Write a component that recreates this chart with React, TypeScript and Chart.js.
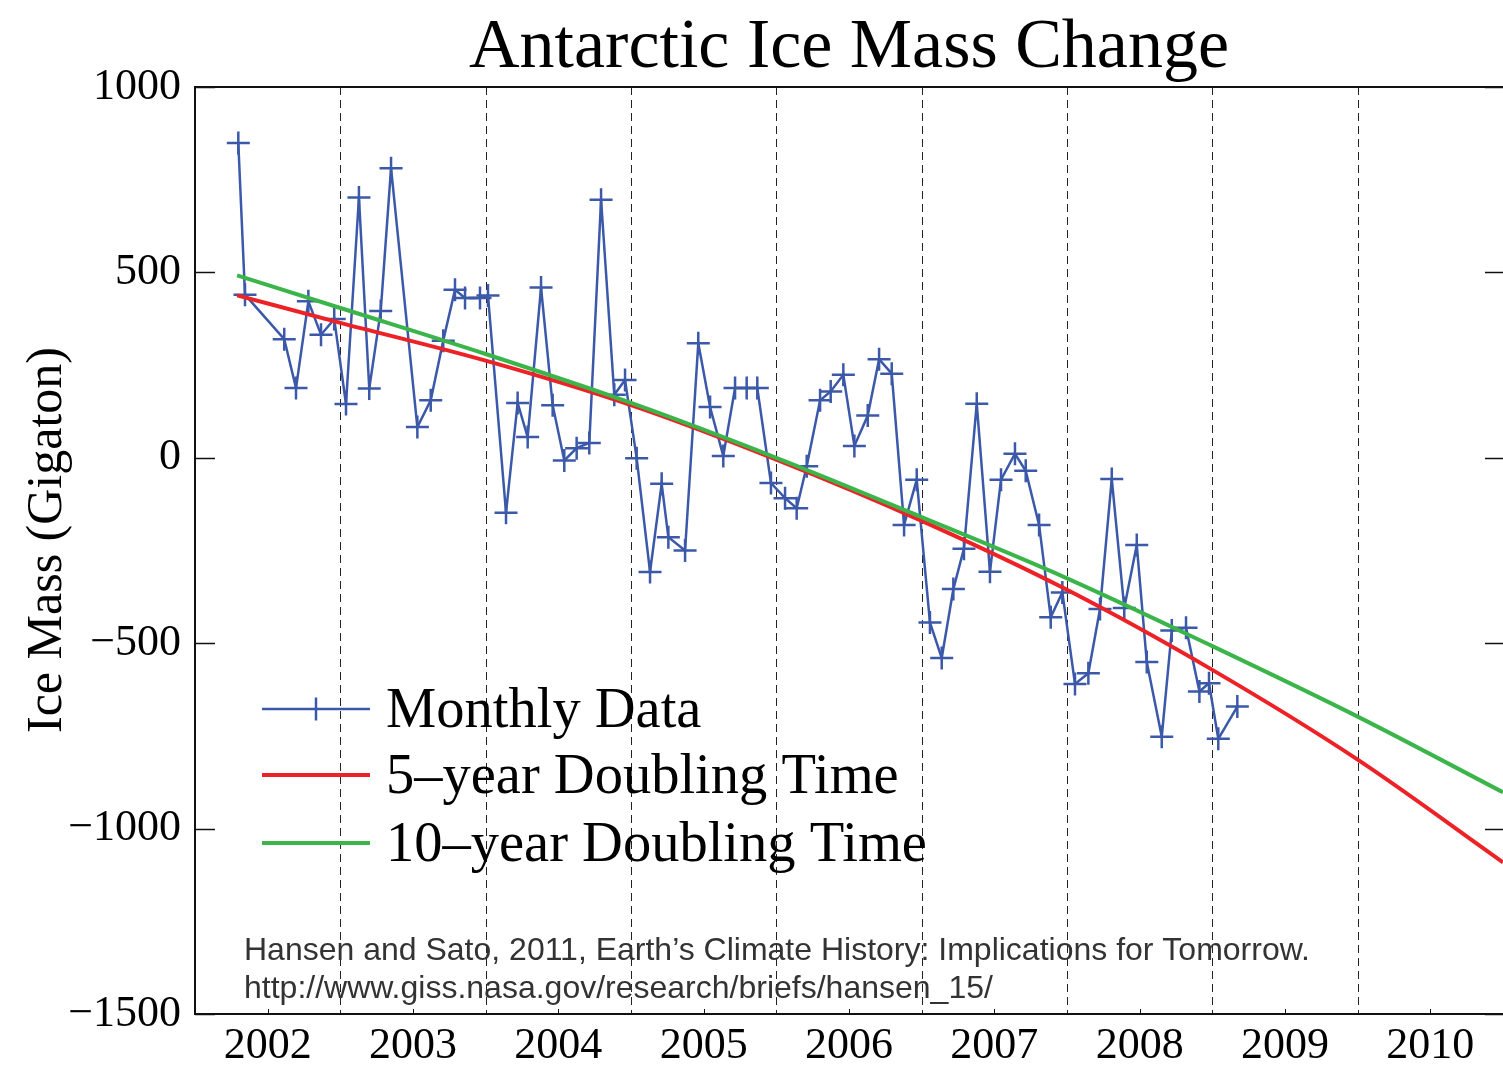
import React, { useEffect, useRef } from 'react';
import { Chart, registerables } from 'chart.js';

Chart.register(...registerables);

// Monthly GRACE data (decimal year, Gt)
const monthYears = [
  2002.298, 2002.344, 2002.614, 2002.695, 2002.780, 2002.867, 2002.958,
  2003.039, 2003.128, 2003.199, 2003.278, 2003.349, 2003.530, 2003.622, 2003.708, 2003.789, 2003.858, 2003.961,
  2004.016, 2004.140, 2004.220, 2004.289, 2004.381, 2004.461, 2004.541, 2004.626, 2004.713, 2004.794, 2004.885, 2004.959,
  2005.039, 2005.131, 2005.211, 2005.257, 2005.372, 2005.463, 2005.544, 2005.635, 2005.716, 2005.796, 2005.869, 2005.963,
  2006.060, 2006.140, 2006.209, 2006.301, 2006.374, 2006.461, 2006.537, 2006.629, 2006.707, 2006.794, 2006.879, 2006.966,
  2007.057, 2007.138, 2007.218, 2007.291, 2007.379, 2007.470, 2007.546, 2007.642, 2007.716, 2007.808, 2007.888, 2007.968,
  2008.055, 2008.147, 2008.227, 2008.308, 2008.394, 2008.480, 2008.549, 2008.652, 2008.721, 2008.819, 2008.911, 2008.977,
  2009.041, 2009.172,
];
const monthMass = [
  849, 440, 320, 188, 422, 332, 374,
  145, 702, 187, 396, 781, 83, 155, 316, 453, 431, 431,
  438, -148, 148, 56, 459, 142, -7, 26, 40, 696, 170, 210,
  -1, -308, -70, -214, -250, 309, 137, 5, 188, 188, 188, -68,
  -109, -136, -23, 155, 179, 224, 32, 114, 266, 227, -181, -59,
  -444, -540, -354, -245, 146, -307, -59, 11, -35, -181, -430, -363,
  -610, -581, -408, -57, -405, -235, -551, -752, -466, -458, -630, -608,
  -758, -671,
];

// Fitted curves, read at yearly points
const trendYears = [2002.29, 2003, 2004, 2005, 2006, 2007, 2008, 2009, 2010, 2011];
const fiveYearDoubling = [438, 364, 262, 142, -5, -170, -356, -572, -814, -1091];
const tenYearDoubling = [492, 404, 280, 148, 0, -160, -325, -508, -698, -902];

const yearLabels = [2002, 2003, 2004, 2005, 2006, 2007, 2008, 2009, 2010];
const yearBoundaries = [2003, 2004, 2005, 2006, 2007, 2008, 2009, 2010];
const yTicks = [-1500, -1000, -500, 0, 500, 1000];

const titleText = 'Antarctic Ice Mass Change';
const yTitleText = 'Ice Mass (Gigaton)';
const legendLabels = ['Monthly Data', '5\u2013year Doubling Time', '10\u2013year Doubling Time'];
const creditLines = [
  'Hansen and Sato, 2011, Earth\u2019s Climate History: Implications for Tomorrow.',
  'http://www.giss.nasa.gov/research/briefs/hansen_15/',
];

const BLUE = '#3b59a8';
const RED = '#ec2227';
const GREEN = '#3bb54a';
const SERIF = '"Liberation Serif", "Times New Roman", Times, serif';
const SANS = '"Liberation Sans", Arial, Helvetica, sans-serif';

const decorPlugin = {
  id: 'decor',
  beforeDatasetsDraw(chart: any) {
    const { ctx, chartArea: a, scales } = chart;
    const x = scales.x;
    const y = scales.y;
    const line = (x1: number, y1: number, x2: number, y2: number) => {
      ctx.beginPath();
      ctx.moveTo(x1, y1);
      ctx.lineTo(x2, y2);
      ctx.stroke();
    };
    ctx.save();
    // dashed year boundaries
    ctx.strokeStyle = '#222';
    ctx.lineWidth = 1;
    ctx.setLineDash([8, 5]);
    for (const b of yearBoundaries) {
      const px = Math.round(x.getPixelForValue(b)) + 0.5;
      line(px, a.top, px, a.bottom);
    }
    ctx.setLineDash([]);
    // inner y ticks left & right
    ctx.strokeStyle = '#111';
    ctx.lineWidth = 1.5;
    for (const v of yTicks) {
      const py = Math.round(y.getPixelForValue(v)) + 0.5;
      line(a.left, py, a.left + 20, py);
      line(a.right - 18, py, a.right, py);
    }
    // minor ticks at label positions (bottom)
    ctx.lineWidth = 1;
    for (const yr of yearLabels) {
      const px = Math.round(x.getPixelForValue(yr + 0.5)) + 0.5;
      line(px, a.bottom, px, a.bottom - 5);
    }
    // frame
    ctx.strokeStyle = '#111';
    ctx.lineWidth = 2;
    line(a.left, a.top, a.right, a.top);
    line(a.left, a.top - 1, a.left, a.bottom + 1);
    line(a.left - 1, a.bottom, a.right, a.bottom);
    ctx.restore();
  },
  afterDraw(chart: any) {
    const { ctx, chartArea: a } = chart;
    ctx.save();
    // title
    ctx.fillStyle = '#000';
    ctx.font = `70px ${SERIF}`;
    ctx.textAlign = 'center';
    ctx.textBaseline = 'alphabetic';
    ctx.fillText(titleText, 849, 67);
    // y title
    ctx.save();
    ctx.translate(61, 540);
    ctx.rotate(-Math.PI / 2);
    ctx.font = `50px ${SERIF}`;
    ctx.textAlign = 'center';
    ctx.fillText(yTitleText, 0, 0);
    ctx.restore();

    // legend
    const lx1 = a.left + 67;
    const lx2 = a.left + 175;
    const rows = [a.top + 622, a.top + 688, a.top + 756];
    const colors = [BLUE, RED, GREEN];
    const widths = [2.5, 4, 4];
    rows.forEach((ry, i) => {
      ctx.strokeStyle = colors[i];
      ctx.lineWidth = widths[i];
      ctx.beginPath();
      ctx.moveTo(lx1, ry);
      ctx.lineTo(lx2, ry);
      ctx.stroke();
      if (i === 0) {
        const cx = (lx1 + lx2) / 2;
        ctx.beginPath();
        ctx.moveTo(cx, ry - 11.5);
        ctx.lineTo(cx, ry + 11.5);
        ctx.stroke();
      }
      ctx.fillStyle = '#000';
      ctx.font = `56.5px ${SERIF}`;
      ctx.textAlign = 'left';
      ctx.textBaseline = 'alphabetic';
      ctx.fillText(legendLabels[i], a.left + 191, ry + 18);
    });

    // credits
    ctx.fillStyle = '#333';
    ctx.font = `32px ${SANS}`;
    ctx.textAlign = 'left';
    ctx.fillText(creditLines[0], a.left + 49, 960);
    ctx.fillText(creditLines[1], a.left + 49, 998);
    ctx.restore();
  },
};

export default function App() {
  const canvasRef = useRef<HTMLCanvasElement | null>(null);

  useEffect(() => {
    const canvas = canvasRef.current;
    if (!canvas) return;
    const chart = new Chart(canvas, {
      type: 'line',
      data: {
        datasets: [
          {
            label: legendLabels[0],
            data: monthYears.map((t, i) => ({ x: t, y: monthMass[i] })),
            borderColor: BLUE,
            backgroundColor: BLUE,
            borderWidth: 2.5,
            pointStyle: 'cross',
            pointRadius: 11.5,
            pointBorderWidth: 2.5,
            pointBorderColor: BLUE,
            tension: 0,
            order: 3,
          },
          {
            label: legendLabels[1],
            data: trendYears.map((t, i) => ({ x: t, y: fiveYearDoubling[i] })),
            borderColor: RED,
            borderWidth: 4,
            pointRadius: 0,
            cubicInterpolationMode: 'monotone',
            order: 2,
          },
          {
            label: legendLabels[2],
            data: trendYears.map((t, i) => ({ x: t, y: tenYearDoubling[i] })),
            borderColor: GREEN,
            borderWidth: 4,
            pointRadius: 0,
            cubicInterpolationMode: 'monotone',
            order: 1,
          },
        ],
      },
      options: {
        responsive: false,
        animation: false,
        devicePixelRatio: 1,
        layout: { autoPadding: false, padding: { top: 87, right: 0, bottom: 0, left: 0 } },
        plugins: {
          legend: { display: false },
          title: { display: false },
          tooltip: { enabled: false },
        },
        scales: {
          x: {
            type: 'linear',
            min: 2002,
            max: 2011,
            afterBuildTicks: (s: any) => {
              s.ticks = yearLabels.map((v) => ({ value: v + 0.5 }));
            },
            afterFit: (s: any) => {
              s.height = 61;
              s.paddingLeft = 0;
              s.paddingRight = 0;
            },
            ticks: {
              callback: (v: any) => String(Math.floor(Number(v))),
              font: { family: SERIF, size: 44 },
              color: '#000',
              padding: 6,
              maxRotation: 0,
              autoSkip: false,
            },
            grid: { display: false, drawTicks: false },
            border: { display: false },
          },
          y: {
            type: 'linear',
            min: -1500,
            max: 1000,
            afterBuildTicks: (s: any) => {
              s.ticks = yTicks.map((v) => ({ value: v }));
            },
            afterFit: (s: any) => {
              s.width = 195;
            },
            ticks: {
              callback: (v: any) => (Number(v) < 0 ? '\u2212' + Math.abs(Number(v)) : String(v)),
              font: { family: SERIF, size: 44 },
              color: '#000',
              padding: 14,
            },
            grid: { display: false, drawTicks: false },
            border: { display: false },
          },
        },
      },
      plugins: [decorPlugin],
    } as any);
    return () => chart.destroy();
  }, []);

  return (
    <div style={{ position: 'fixed', left: 0, top: 0, width: 1503, height: 1075, background: '#fff' }}>
      <canvas ref={canvasRef} width={1503} height={1075} style={{ display: 'block' }} />
    </div>
  );
}
